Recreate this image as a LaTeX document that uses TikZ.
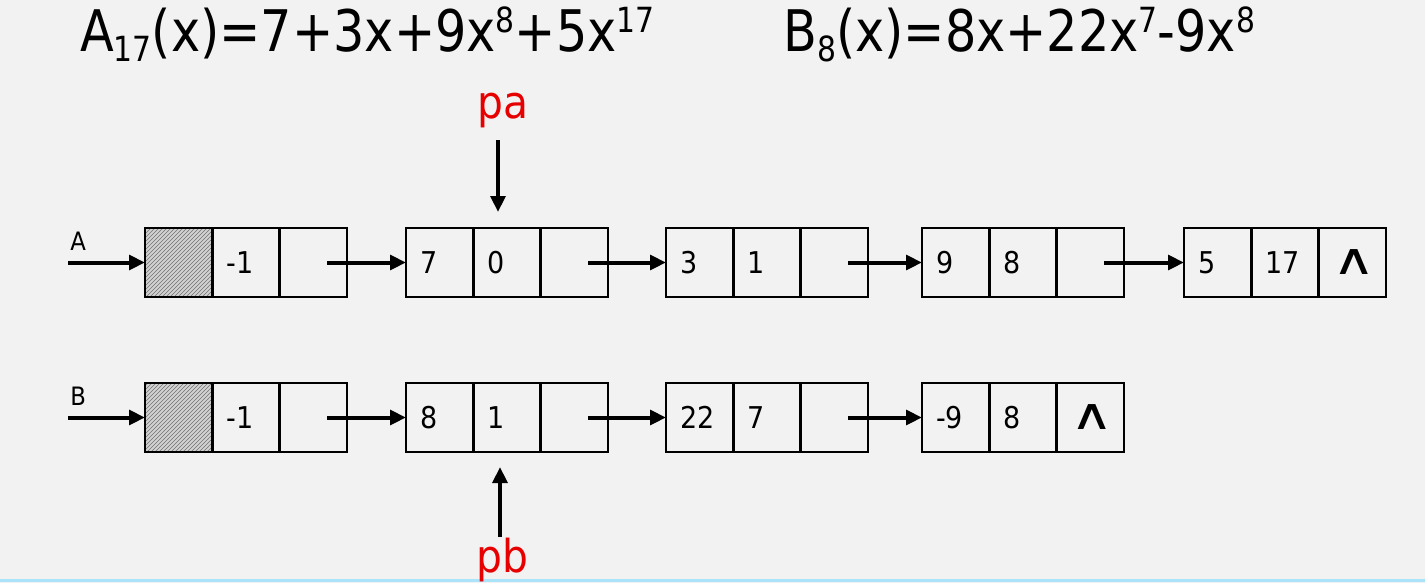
\documentclass[tikz,border=0pt]{standalone}
\usepackage{fontspec}
\setmainfont{DejaVu Sans}[FakeStretch=0.9]
\newfontfamily\titlefont{DejaVu Sans}[FakeStretch=0.86]
\usetikzlibrary{arrows.meta,positioning,patterns}
\definecolor{bg}{RGB}{242,242,242}
\definecolor{ptrred}{RGB}{230,0,0}
\definecolor{edgeblue}{RGB}{170,228,250}
\newcommand\supx[1]{\raisebox{14pt}{\fontsize{26}{26}\selectfont #1}}
\newcommand\subx[1]{\raisebox{-8pt}{\fontsize{26}{26}\selectfont #1}}
\newcommand\nilmark{\scalebox{1.3}[0.85]{∧}}
\tikzset{
  cell/.style={draw, line width=1.9pt, outer sep=0pt, minimum height=51.75pt, text width=29.5pt,
    inner xsep=10.5pt, inner ysep=0pt, align=left, font=\fontsize{22.5}{22.5}\selectfont,
    anchor=west},
  nilcell/.style={cell, align=center, font=\fontsize{38}{38}\selectfont},
  headcell/.style={cell, preaction={fill=black!18}, pattern=north east lines, pattern color=black!55},
  ptr/.style={line width=3pt, -{Triangle[length=12pt,width=11pt]}},
  title/.style={anchor=base west, inner sep=0pt, font=\titlefont\fontsize{43}{43}\selectfont},
  plabel/.style={text=ptrred, inner sep=0pt, font=\fontsize{34}{34}\selectfont},
  rowlabel/.style={anchor=base west, inner sep=0pt, font=\fontsize{19}{19}\selectfont},
}
\begin{document}
\begin{tikzpicture}[x=0.75pt,y=-0.75pt]
\fill[bg] (0,0) rectangle (1425,583);
\useasboundingbox (0,0) rectangle (1425,583);
\draw[edgeblue, line width=1.8pt] (0,580.5) -- (1425,580.5);

\node[title] (ta) at (80,51) {A\subx{17}(x)=7+3x+9x\supx{8}+5x\supx{17}};
\node[title] (tb) at (783,51) {B\subx{8}(x)=8x+22x\supx{7}-9x\supx{8}};

% row A
\node[headcell] (a0c1) at (145,262.5) {};
\node[cell, right=0pt of a0c1] (a0c2) {-1};
\node[cell, right=0pt of a0c2] (a0c3) {};
\node[cell] (a1c1) at (406,262.5) {7};
\node[cell, right=0pt of a1c1] (a1c2) {0};
\node[cell, right=0pt of a1c2] (a1c3) {};
\node[cell] (a2c1) at (666,262.5) {3};
\node[cell, right=0pt of a2c1] (a2c2) {1};
\node[cell, right=0pt of a2c2] (a2c3) {};
\node[cell] (a3c1) at (922,262.5) {9};
\node[cell, right=0pt of a3c1] (a3c2) {8};
\node[cell, right=0pt of a3c2] (a3c3) {};
\node[cell] (a4c1) at (1184,262.5) {5};
\node[cell, right=0pt of a4c1] (a4c2) {17};
\node[nilcell, right=0pt of a4c2] (a4c3) {\nilmark};

% row B
\node[headcell] (b0c1) at (145,417.5) {};
\node[cell, right=0pt of b0c1] (b0c2) {-1};
\node[cell, right=0pt of b0c2] (b0c3) {};
\node[cell] (b1c1) at (406,417.5) {8};
\node[cell, right=0pt of b1c1] (b1c2) {1};
\node[cell, right=0pt of b1c2] (b1c3) {};
\node[cell] (b2c1) at (666,417.5) {22};
\node[cell, right=0pt of b2c1] (b2c2) {7};
\node[cell, right=0pt of b2c2] (b2c3) {};
\node[cell] (b3c1) at (922,417.5) {-9};
\node[cell, right=0pt of b3c1] (b3c2) {8};
\node[nilcell, right=0pt of b3c2] (b3c3) {\nilmark};

% entry arrows
\coordinate (ain) at (68,262.5);
\coordinate (bin) at (68,417.5);
\node[rowlabel] (la) at (70,250) {A};
\node[rowlabel] (lb) at (70,405) {B};
\draw[ptr] (ain) -- (a0c1.west);
\draw[ptr] (bin) -- (b0c1.west);

% links
\foreach \s/\t in {a0c3/a1c1, a1c3/a2c1, a2c3/a3c1, a3c3/a4c1, b0c3/b1c1, b1c3/b2c1, b2c3/b3c1}
  \draw[ptr] ([xshift=-15pt]\s.east) -- (\t.west);

% pointers
\node[plabel, anchor=base] (pa) at (503,118) {pa};
\coordinate (pat) at (498,140);
\coordinate (pah) at (498,212);
\draw[ptr] (pat) -- (pah);
\node[plabel, anchor=base] (pb) at (502,572) {pb};
\coordinate (pbt) at (500,537);
\coordinate (pbh) at (500,467);
\draw[ptr] (pbt) -- (pbh);
\end{tikzpicture}
\end{document}
